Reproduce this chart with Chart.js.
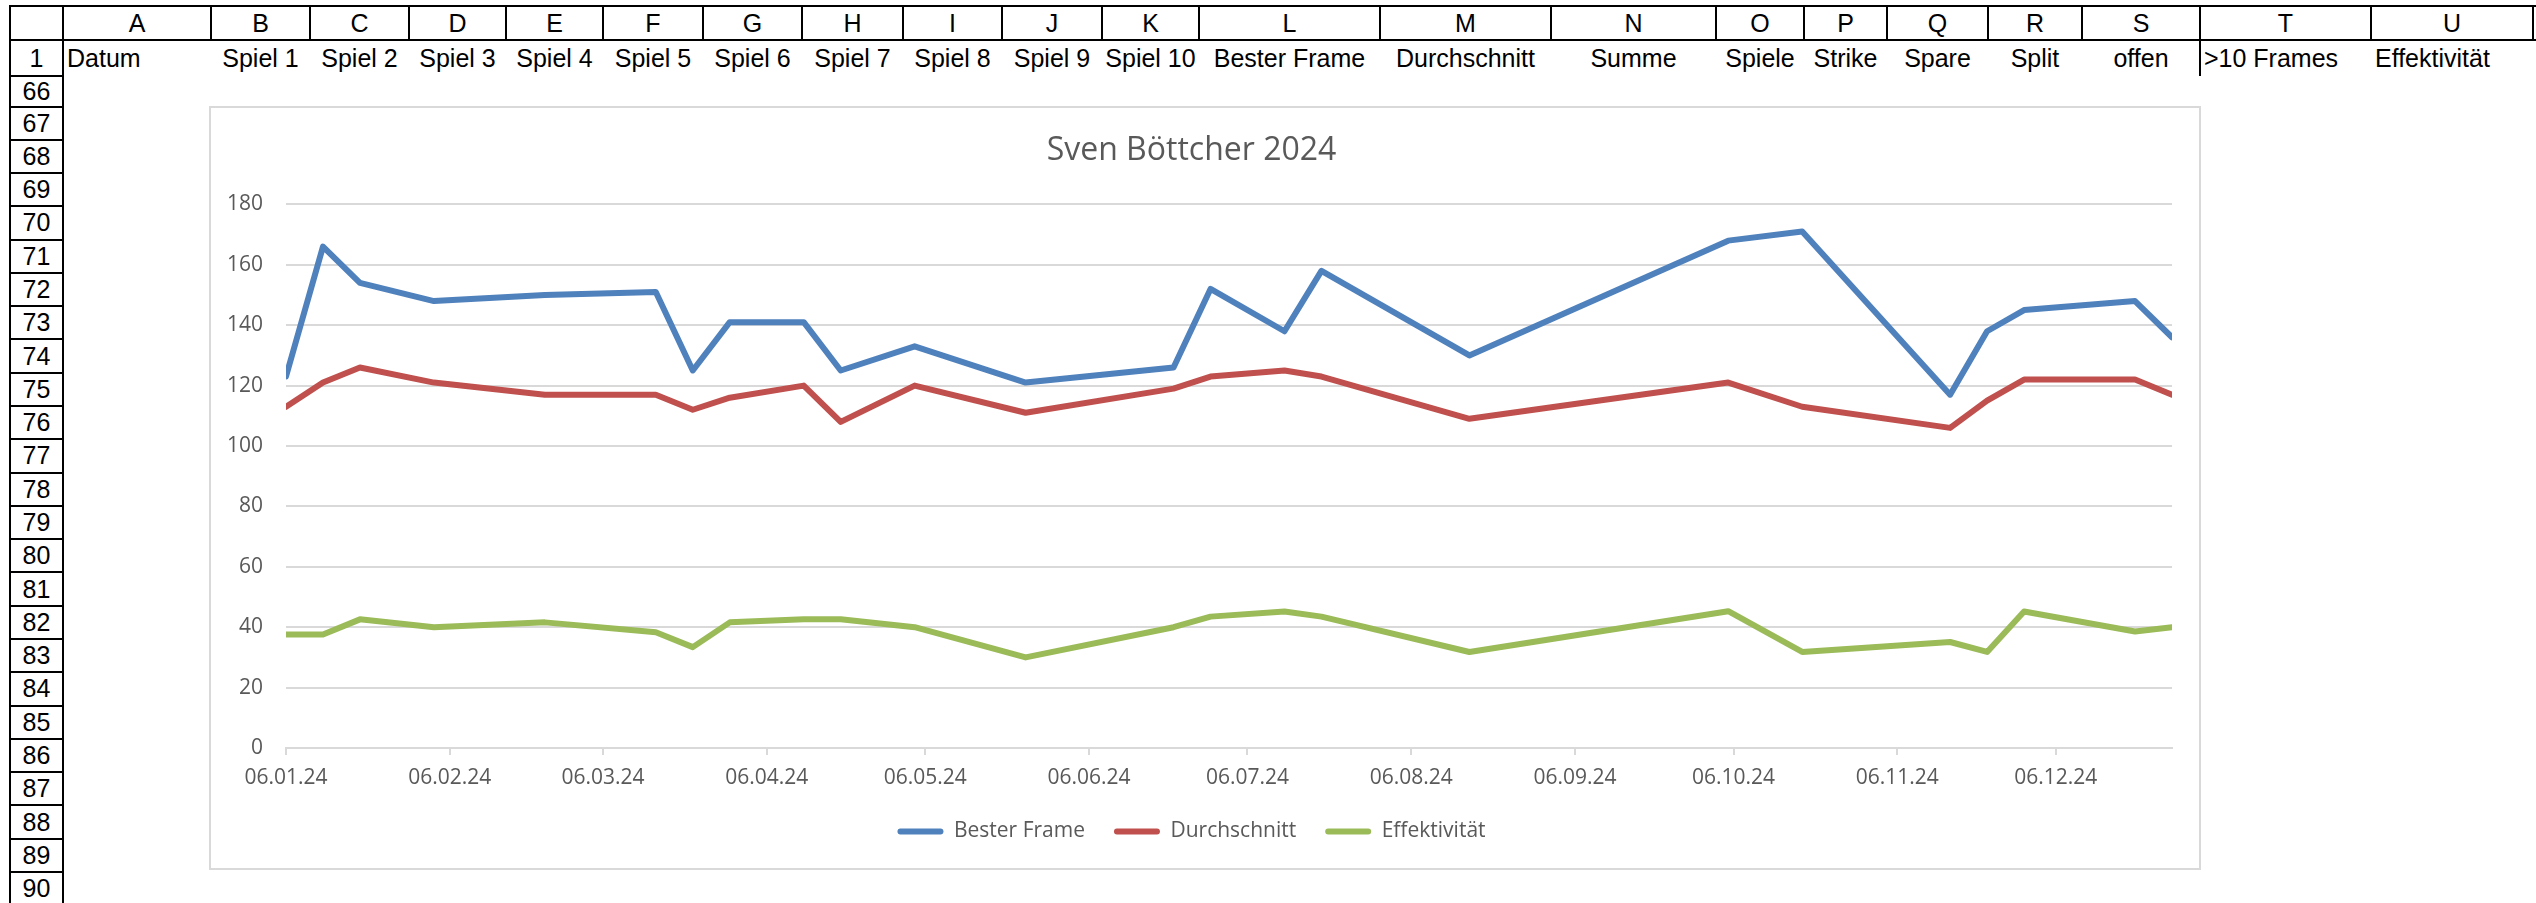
<!DOCTYPE html>
<html>
<head>
<meta charset="utf-8">
<script src="https://cdn.jsdelivr.net/npm/chart.js@4.4.1/dist/chart.umd.min.js"></script>
<style>
    html, body { margin: 0; padding: 0; background: #fff; }
    body { width: 2536px; height: 903px; overflow: hidden; position: relative; font-family: "Liberation Sans", Arial, sans-serif; }
    .ln { position: absolute; background: #000; }
    .cell { position: absolute; display: flex; align-items: center; font-size: 25px; white-space: nowrap; color: #000; overflow: visible; }
    #frame { position: absolute; left: 209px; top: 106px; width: 1988px; height: 760px; border: 2px solid #d9d9d9; background: #fff; }
    #frame canvas { display: block; }
</style>
</head>
<body>
<div id="sheet"></div>
<div id="frame"><canvas id="bowlingChart" width="1988" height="760"></canvas></div>

<script>
// Spieltage (Samstage 2024)
const gameDates = [
    '2024-01-06', '2024-01-13', '2024-01-20', '2024-02-03', '2024-02-24', '2024-03-16',
    '2024-03-23', '2024-03-30', '2024-04-13', '2024-04-20', '2024-05-04', '2024-05-25',
    '2024-06-22', '2024-06-29', '2024-07-13', '2024-07-20', '2024-08-17', '2024-10-05',
    '2024-10-19', '2024-11-16', '2024-11-23', '2024-11-30', '2024-12-21', '2024-12-28'
];
const besterFrame = [123, 166, 154, 148, 150, 151, 125, 141, 141, 125, 133, 121, 126, 152, 138, 158, 130, 168, 171, 117, 138, 145, 148, 136];
const durchschnitt = [113, 121, 126, 121, 117, 117, 112, 116, 120, 108, 120, 111, 119, 123, 125, 123, 109, 121, 113, 106, 115, 122, 122, 117];
const effektivitaet = [37.6, 37.6, 42.6, 40.0, 41.6, 38.3, 33.4, 41.6, 42.6, 42.6, 40.0, 30.0, 40.0, 43.5, 45.2, 43.5, 31.8, 45.3, 31.8, 35.1, 31.8, 45.2, 38.6, 40.0];
const xTickLabels = ['06.01.24', '06.02.24', '06.03.24', '06.04.24', '06.05.24', '06.06.24', '06.07.24', '06.08.24', '06.09.24', '06.10.24', '06.11.24', '06.12.24'];

// Tabellenkopf
const colLetters = ['A', 'B', 'C', 'D', 'E', 'F', 'G', 'H', 'I', 'J', 'K', 'L', 'M', 'N', 'O', 'P', 'Q', 'R', 'S', 'T', 'U'];
const colEdges = [63, 211, 310, 409, 506, 603, 703, 802, 903, 1002, 1102, 1199, 1380, 1551, 1716, 1804, 1887, 1988, 2082, 2200, 2371, 2533];
const row1Texts = ['Datum', 'Spiel 1', 'Spiel 2', 'Spiel 3', 'Spiel 4', 'Spiel 5', 'Spiel 6', 'Spiel 7', 'Spiel 8', 'Spiel 9', 'Spiel 10',
    'Bester Frame', 'Durchschnitt', 'Summe', 'Spiele', 'Strike', 'Spare', 'Split', 'offen', '>10 Frames', 'Effektivität'];
const rowNumbers = ['1', '66', '67', '68', '69', '70', '71', '72', '73', '74', '75', '76', '77', '78', '79', '80', '81', '82', '83', '84', '85', '86', '87', '88', '89', '90'];

const sheet = document.getElementById('sheet');
const line = (x, y, w, h) => {
    const d = document.createElement('div');
    d.className = 'ln';
    Object.assign(d.style, { left: x + 'px', top: y + 'px', width: w + 'px', height: h + 'px' });
    sheet.appendChild(d);
};
const cell = (x, y, w, h, text, align) => {
    const d = document.createElement('div');
    d.className = 'cell';
    d.textContent = text;
    Object.assign(d.style, { left: x + 'px', top: y + 'px', width: w + 'px', height: h + 'px',
        justifyContent: align === 'left' ? 'flex-start' : 'center', paddingLeft: align === 'left' ? '4px' : '0' });
    sheet.appendChild(d);
};

// Rahmenlinien
line(9, 5, 2527, 2);
line(9, 39, 2527, 2);
line(9, 5, 2, 898);
line(62, 5, 2, 898);
colEdges.slice(1).forEach(x => line(x - 1, 5, 2, 35));
line(2199, 40, 2, 36);

colLetters.forEach((c, i) => cell(colEdges[i], 7, colEdges[i + 1] - colEdges[i], 33, c, 'center'));
row1Texts.forEach((t, i) => {
    const align = (i === 0 || i >= 19) ? 'left' : 'center';
    cell(colEdges[i], 41, colEdges[i + 1] - colEdges[i], 35, t, align);
});

// Zeilennummern
const rowTops = [41, 76, 106.5];
for (let i = 3; i <= rowNumbers.length; i++) rowTops.push(106.5 + (i - 2) * 33.28);
rowNumbers.forEach((n, i) => {
    const top = rowTops[i];
    const bottom = rowTops[i + 1];
    cell(11, top, 51, bottom - top, n, 'center');
    line(9, bottom - 1, 55, 2);
});

// Diagramm
const dayMs = 86400000;
const toDay = (iso) => {
    const [y, m, d] = iso.split('-').map(Number);
    return Date.UTC(y, m - 1, d) / dayMs;
};
const startDay = toDay(gameDates[0]);
const gameDays = gameDates.map(d => toDay(d) - startDay);
const tickDays = xTickLabels.map(l => {
    const [d, m, y] = l.split('.');
    return toDay(`20${y}-${m}-${d}`) - startDay;
});
const toPoints = (values) => values.map((v, i) => ({ x: gameDays[i], y: v }));

const textColor = '#595959';
const gridColor = '#d9d9d9';
const axisFont = { family: "'Open Sans', sans-serif", size: 21 };

new Chart(document.getElementById('bowlingChart').getContext('2d'), {
    type: 'line',
    data: {
        datasets: [
            { label: 'Bester Frame', data: toPoints(besterFrame), borderColor: '#4f81bd', backgroundColor: '#4f81bd' },
            { label: 'Durchschnitt', data: toPoints(durchschnitt), borderColor: '#c0504d', backgroundColor: '#c0504d' },
            { label: 'Effektivität', data: toPoints(effektivitaet), borderColor: '#9bbb59', backgroundColor: '#9bbb59' }
        ]
    },
    options: {
        responsive: false,
        animation: false,
        layout: { padding: { left: 0, right: 27, top: 0, bottom: 16 } },
        elements: {
            line: { borderWidth: 6, tension: 0, borderCapStyle: 'round', borderJoinStyle: 'round' },
            point: { radius: 0, hoverRadius: 0 }
        },
        plugins: {
            title: {
                display: true,
                text: 'Sven Böttcher 2024',
                color: textColor,
                font: { family: "'Open Sans', sans-serif", size: 32, weight: 'normal' },
                padding: { top: 24, bottom: 34 }
            },
            legend: {
                position: 'bottom',
                labels: {
                    color: textColor,
                    font: axisFont,
                    boxWidth: 46,
                    boxHeight: 6,
                    padding: 29,
                    useBorderRadius: true,
                    borderRadius: 3,
                    generateLabels: (chart) => Chart.defaults.plugins.legend.labels.generateLabels(chart)
                        .map(item => ({ ...item, lineWidth: 0 }))
                }
            },
            tooltip: { enabled: false }
        },
        scales: {
            x: {
                type: 'linear',
                min: 0,
                max: gameDays[gameDays.length - 1],
                afterBuildTicks: (scale) => { scale.ticks = tickDays.map(v => ({ value: v })); },
                afterFit: (scale) => { scale.height = 44; },
                ticks: {
                    autoSkip: false,
                    maxRotation: 0,
                    padding: 10,
                    color: textColor,
                    font: axisFont,
                    callback: (val, idx) => xTickLabels[idx]
                },
                grid: { drawOnChartArea: false, drawTicks: true, tickLength: 7, color: gridColor, lineWidth: 2 },
                border: { display: true, color: gridColor, width: 2 }
            },
            y: {
                min: 0,
                max: 180,
                afterFit: (scale) => { scale.width = 75; },
                ticks: { stepSize: 20, padding: 23, color: textColor, font: axisFont },
                grid: { color: gridColor, lineWidth: 2, drawTicks: false },
                border: { display: false }
            }
        }
    }
});
</script>
</body>
</html>
